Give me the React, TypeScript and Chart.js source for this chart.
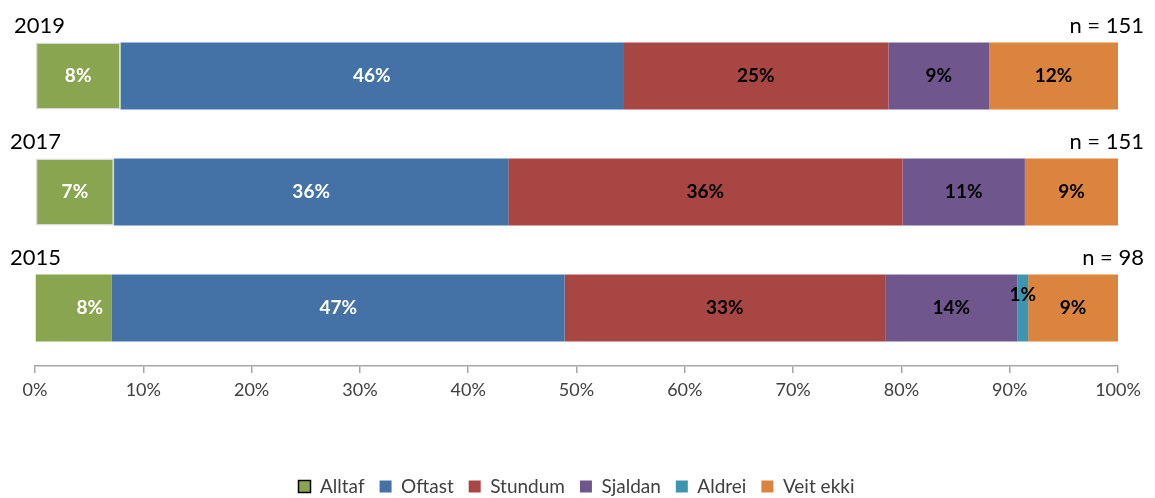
import React, { useEffect, useRef } from "react";
import { Chart, registerables } from "chart.js";

Chart.register(...registerables);

const categories = ["2019", "2017", "2015"];
const sampleSizes = ["n = 151", "n = 151", "n = 98"];
const seriesNames = ["Alltaf", "Oftast", "Stundum", "Sjaldan", "Aldrei", "Veit ekki"];

const alltaf = [7.9, 7.3, 7.1];
const oftast = [46.4, 36.4, 41.8];
const stundum = [24.5, 36.4, 29.6];
const sjaldan = [9.3, 11.3, 12.2];
const aldrei = [0, 0, 1.0];
const veitEkki = [11.9, 8.6, 8.3];

const alltafLabels = ["8%", "7%", "8%"];
const oftastLabels = ["46%", "36%", "47%"];
const stundumLabels = ["25%", "36%", "33%"];
const sjaldanLabels = ["9%", "11%", "14%"];
const aldreiLabels = ["", "", "1%"];
const veitEkkiLabels = ["12%", "9%", "9%"];

const xTicks = [0, 10, 20, 30, 40, 50, 60, 70, 80, 90, 100];

const colors = ["#8aa54f", "#4472a6", "#a84644", "#6f578e", "#3d96b0", "#db843e"];
const labelColors = ["#ffffff", "#ffffff", "#000000", "#000000", "#000000", "#000000"];
const FONT = "Lato, 'Open Sans', sans-serif";

const allValues = [alltaf, oftast, stundum, sjaldan, aldrei, veitEkki];
const allLabels = [alltafLabels, oftastLabels, stundumLabels, sjaldanLabels, aldreiLabels, veitEkkiLabels];

const overlayPlugin = {
  id: "overlay",
  afterDatasetsDraw(chart: any) {
    const ctx = chart.ctx;
    ctx.save();
    ctx.textBaseline = "middle";
    ctx.font = `bold 19px ${FONT}`;
    ctx.textAlign = "center";
    chart.data.datasets.forEach((ds: any, di: number) => {
      const meta = chart.getDatasetMeta(di);
      meta.data.forEach((bar: any, i: number) => {
        const text = allLabels[di][i];
        if (!text || !ds.data[i]) return;
        let cx = (bar.x + bar.base) / 2;
        let cy = bar.y;
        if (di === 0 && i === 2) cx += 16;
        if (di === 4) cy -= 13;
        ctx.fillStyle = labelColors[di];
        ctx.fillText(text, cx, cy);
      });
    });
    const meta0 = chart.getDatasetMeta(0);
    meta0.data.forEach((bar: any, i: number) => {
      const top = bar.y - bar.height / 2;
      ctx.fillStyle = "#000000";
      ctx.font = `22px ${FONT}`;
      ctx.textAlign = "left";
      ctx.fillText(categories[i], i === 0 ? 14 : 10, top - 17);
      ctx.textAlign = "right";
      ctx.fillText(sampleSizes[i], 1144, top - 17);
    });
    ctx.restore();
  },
};

export default function App() {
  const ref = useRef<HTMLCanvasElement | null>(null);
  useEffect(() => {
    if (!ref.current) return;
    const chart = new Chart(ref.current, {
      type: "bar",
      data: {
        labels: categories,
        datasets: seriesNames.map((name, k) => ({
          label: name,
          data: allValues[k],
          backgroundColor: colors[k],
          borderColor: k === 0 ? ["#d9d9d9", "#d9d9d9", colors[0]] : colors[k],
          borderWidth: k === 0 ? [1.5, 1.5, 0] : 0,
          borderSkipped: false,
          barPercentage: 1,
          categoryPercentage: 67 / 116,
        })),
      },
      options: {
        indexAxis: "y",
        animation: false,
        responsive: false,
        devicePixelRatio: 1,
        layout: { padding: { left: 35, right: 37, top: 18, bottom: 0 } },
        scales: {
          y: { stacked: true, display: false },
          x: {
            stacked: true,
            min: 0,
            max: 100,
            afterBuildTicks: (scale: any) => {
              scale.ticks = xTicks.map((v) => ({ value: v }));
            },
            afterFit: (scale: any) => {
              scale.height = 96;
            },
            ticks: {
              callback: (v: any) => v + "%",
              color: "#404040",
              font: { family: FONT, size: 18 },
              padding: 6,
              maxRotation: 0,
            },
            grid: {
              drawOnChartArea: false,
              drawTicks: true,
              tickLength: 7,
              color: "#a6a6a6",
              lineWidth: 1.5,
            },
            border: { color: "#a6a6a6", width: 1.5 },
          },
        },
        plugins: {
          tooltip: { enabled: false },
          legend: {
            position: "bottom",
            maxHeight: 36,
            labels: {
              color: "#404040",
              font: { family: FONT, size: 19 },
              boxWidth: 12,
              boxHeight: 12,
              padding: 15,
              generateLabels: () =>
                seriesNames.map((name, k) => ({
                  text: name,
                  fillStyle: colors[k],
                  strokeStyle: k === 0 ? "#000000" : colors[k],
                  lineWidth: k === 0 ? 1.5 : 0,
                  hidden: false,
                  datasetIndex: k,
                  fontColor: "#404040",
                })),
            },
          },
        },
      },
      plugins: [overlayPlugin],
    } as any);
    return () => chart.destroy();
  }, []);
  return (
    <div style={{ position: "fixed", left: 0, top: 0, width: 1155, height: 498, background: "#fff" }}>
      <canvas ref={ref} width={1155} height={498} />
    </div>
  );
}
